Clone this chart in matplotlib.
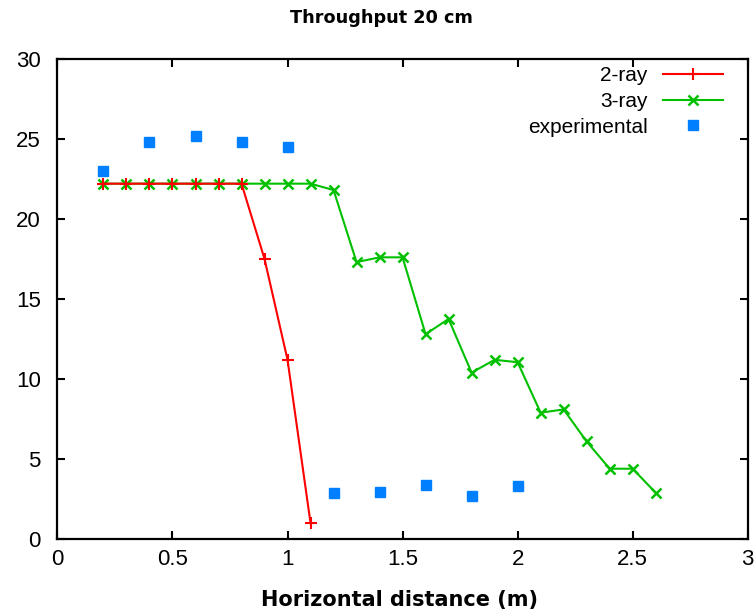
import numpy as np
import matplotlib
matplotlib.use('Agg')
import matplotlib.pyplot as plt

# data
x_2ray = [0.2, 0.3, 0.4, 0.5, 0.6, 0.7, 0.8, 0.9, 1.0, 1.1]
y_2ray = [22.2, 22.2, 22.2, 22.2, 22.2, 22.2, 22.2, 17.5, 11.2, 1.0]

x_3ray = [0.2, 0.3, 0.4, 0.5, 0.6, 0.7, 0.8, 0.9, 1.0, 1.1,
          1.2, 1.3, 1.4, 1.5, 1.6, 1.7, 1.8, 1.9, 2.0, 2.1,
          2.2, 2.3, 2.4, 2.5, 2.6]
y_3ray = [22.2, 22.2, 22.2, 22.2, 22.2, 22.2, 22.2, 22.2, 22.2, 22.2,
          21.8, 17.3, 17.6, 17.6, 12.8, 13.75, 10.4, 11.2, 11.05, 7.9,
          8.1, 6.1, 4.4, 4.4, 2.9]

x_exp = [0.2, 0.4, 0.6, 0.8, 1.0, 1.2, 1.4, 1.6, 1.8, 2.0]
y_exp = [23.0, 24.8, 25.2, 24.8, 24.5, 2.9, 2.95, 3.4, 2.7, 3.3]

x_ticks = [0, 0.5, 1, 1.5, 2, 2.5, 3]
x_ticklabels = ['0', '0.5', '1', '1.5', '2', '2.5', '3']
y_ticks = [0, 5, 10, 15, 20, 25, 30]

fig = plt.figure(figsize=(7.56, 6.12), dpi=100)
ax = fig.add_axes([0.076, 0.119, 0.913, 0.785])

ax.plot(x_2ray, y_2ray, color='#ff0000', lw=1.5, marker='+', ms=8, mew=1.5,
        label='2-ray', clip_on=False, zorder=3)
ax.plot(x_3ray, y_3ray, color='#00c000', lw=1.5, marker='x', ms=7, mew=1.8,
        label='3-ray', clip_on=False, zorder=2)
ax.plot(x_exp, y_exp, ls='none', color='#0080ff', marker='s', ms=6.5,
        label='experimental', clip_on=False, zorder=4)

ax.set_xlim(0, 3)
ax.set_ylim(0, 30)
ax.set_xticks(x_ticks)
ax.set_xticklabels(x_ticklabels)
ax.set_yticks(y_ticks)
ax.tick_params(direction='in', length=6, width=1.5, top=True, right=True,
               labelsize=16)
ax.tick_params(axis='x', pad=7)
ax.tick_params(axis='y', pad=12)
for lab in ax.get_xticklabels() + ax.get_yticklabels():
    lab.set_family('Liberation Sans')
for s in ax.spines.values():
    s.set_linewidth(1.6)

fig.text(0.505, 0.97, 'Throughput 20 cm', fontsize=12.7, fontweight='bold',
         family='DejaVu Sans', ha='center', va='center')
ax.set_xlabel('Horizontal distance (m)', fontsize=15, fontweight='bold',
              family='DejaVu Sans', va='center')
ax.xaxis.set_label_coords(0.495, -0.127)

leg = ax.legend(loc='upper right', frameon=False, markerfirst=False,
                handlelength=2.85, handletextpad=0.77, labelspacing=0.33,
                borderpad=0, borderaxespad=0, bbox_to_anchor=(0.964, 0.985),
                prop={'family': 'Liberation Sans', 'size': 15})

fig.savefig('out.png', dpi=100)
